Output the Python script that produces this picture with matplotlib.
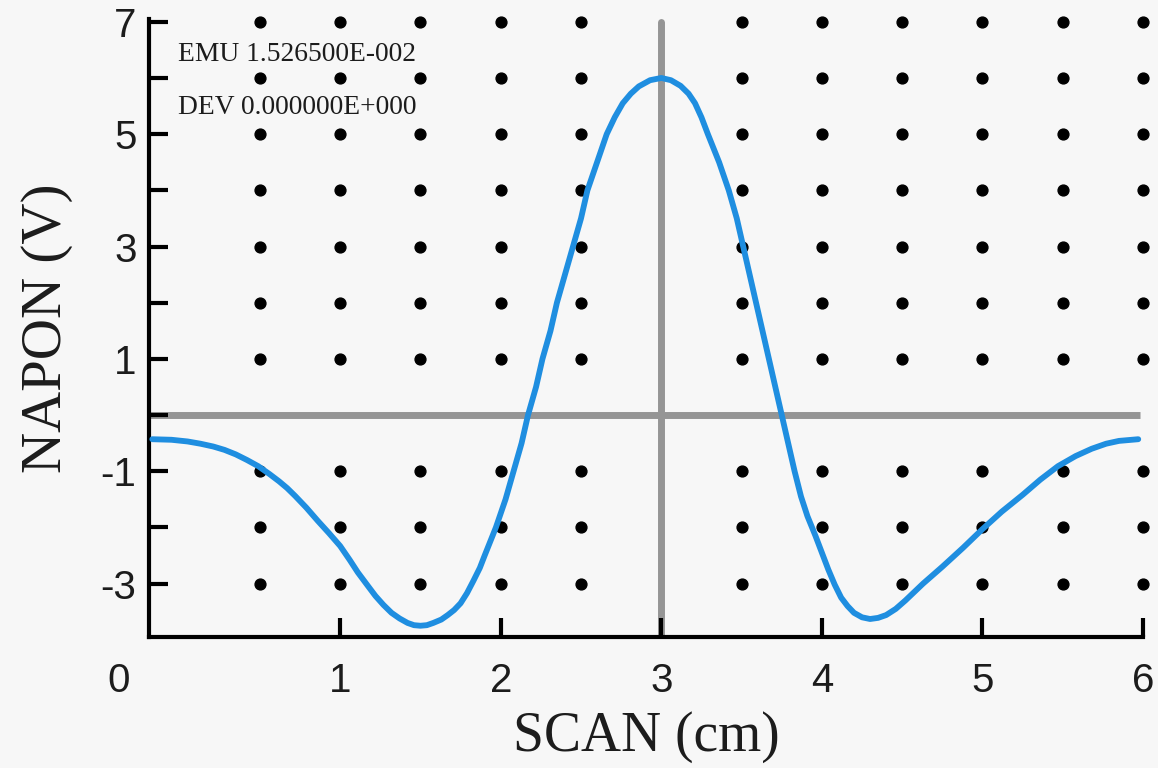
import matplotlib
matplotlib.use("Agg")
import matplotlib.pyplot as plt

# ---------------------------------------------------------
# scan profile (cm, V)
# ---------------------------------------------------------
scan_cm = [-0.17, -0.05, 0.05, 0.13, 0.21, 0.28, 0.35, 0.42, 0.49, 0.56,
           0.62, 0.67, 0.72, 0.79, 0.86, 0.93, 1.00, 1.06, 1.11, 1.17,
           1.22, 1.27, 1.32, 1.37, 1.42, 1.46, 1.50, 1.54, 1.58, 1.63,
           1.67, 1.71, 1.75, 1.79, 1.83, 1.87, 1.90, 1.97, 2.03, 2.08,
           2.13, 2.17, 2.22, 2.26, 2.31, 2.35, 2.40, 2.45, 2.50, 2.54,
           2.60, 2.66, 2.71, 2.76, 2.81, 2.86, 2.93, 3.00, 3.06, 3.12,
           3.17, 3.21, 3.25, 3.29, 3.36, 3.42, 3.47, 3.51, 3.55, 3.59,
           3.63, 3.67, 3.71, 3.75, 3.79, 3.83, 3.87, 3.91, 3.96, 4.00,
           4.04, 4.08, 4.12, 4.16, 4.20, 4.25, 4.30, 4.35, 4.40, 4.46,
           4.52, 4.63, 4.75, 4.88, 5.00, 5.12, 5.25, 5.36, 5.47, 5.58,
           5.68, 5.77, 5.85, 5.97]
napon_v = [-0.43, -0.44, -0.47, -0.51, -0.56, -0.62, -0.70, -0.80, -0.91, -1.05,
           -1.18, -1.30, -1.44, -1.65, -1.88, -2.10, -2.33, -2.58, -2.80, -3.03,
           -3.22, -3.38, -3.52, -3.62, -3.70, -3.74, -3.75, -3.74, -3.70, -3.64,
           -3.56, -3.47, -3.35, -3.17, -2.95, -2.72, -2.50, -2.00, -1.50, -1.00,
           -0.50, 0.00, 0.50, 1.00, 1.50, 2.00, 2.50, 3.00, 3.50, 4.00,
           4.50, 5.00, 5.30, 5.55, 5.72, 5.85, 5.96, 6.00, 5.96, 5.86,
           5.72, 5.55, 5.30, 5.00, 4.50, 4.00, 3.50, 3.00, 2.50, 2.00,
           1.50, 1.00, 0.50, 0.00, -0.50, -1.00, -1.45, -1.80, -2.15, -2.45,
           -2.75, -3.02, -3.25, -3.40, -3.52, -3.60, -3.63, -3.61, -3.56, -3.45,
           -3.30, -3.00, -2.70, -2.36, -2.03, -1.72, -1.42, -1.15, -0.91, -0.73,
           -0.60, -0.51, -0.46, -0.43]

# dot grid: half-cm columns, 1 V rows (the axes lines cover x=3 and y=0)
dot_cols = [0.5, 1.0, 1.5, 2.0, 2.5, 3.5, 4.0, 4.5, 5.0, 5.5, 6.0]
dot_rows = [7, 6, 5, 4, 3, 2, 1, -1, -2, -3]

x_ticks = [1, 2, 3, 4, 5, 6]
y_ticks = [-3, -2, -1, 0, 1, 2, 3, 4, 5, 6, 7]
y_ticklabels = ["-3", "", "-1", "", "1", "", "3", "", "5", "", "7"]

emu_text = "EMU 1.526500E-002"
dev_text = "DEV 0.000000E+000"

bg = "#f7f7f7"
ink = "#1c1c1c"
sans = "Liberation Sans"
serif = "Liberation Serif"

fig = plt.figure(figsize=(11.58, 7.68), dpi=100, facecolor=bg)
ax = fig.add_axes([0.1287, 0.1706, 0.8584, 0.8047])
ax.set_facecolor(bg)

x0, x1 = -0.19, 5.98
ax.set_xlim(x0, x1)
ax.set_ylim(-3.95, 7.05)

# dots
for r in dot_rows:
    ax.plot(dot_cols, [r] * len(dot_cols), linestyle="none", marker="o",
            markersize=7.8, color="black", zorder=2, clip_on=False)

# zero lines
ax.plot([x0, x1], [0, 0], color="#959595", linewidth=5, zorder=1,
        solid_capstyle="butt")
ax.plot([3, 3], [-3.95, 7.0], color="#959595", linewidth=5, zorder=1,
        solid_capstyle="round")

# signal
ax.plot(scan_cm, napon_v, color="#1f8ee0", linewidth=4.2, zorder=3,
        solid_capstyle="round", solid_joinstyle="round")

# axes styling
for side in ["top", "right"]:
    ax.spines[side].set_visible(False)
for side in ["left", "bottom"]:
    ax.spines[side].set_linewidth(3)
    ax.spines[side].set_color("black")

ax.set_xticks(x_ticks)
ax.set_xticklabels([str(t) for t in x_ticks])
ax.set_yticks(y_ticks)
ax.set_yticklabels(y_ticklabels)
ax.tick_params(axis="both", direction="in", length=14, width=3, color="black",
               labelsize=29, labelcolor=ink)
ax.tick_params(axis="x", pad=18)
ax.tick_params(axis="y", pad=9)
for lbl in ax.get_xticklabels() + ax.get_yticklabels():
    lbl.set_fontfamily(sans)

# corner zero label
ax.text(-0.38, -4.73, "0", fontsize=29, family=sans, color=ink,
        ha="center", va="center", clip_on=False)

ax.set_xlabel("SCAN (cm)", fontsize=40, family=serif, labelpad=8, color=ink)
ax.set_ylabel("NAPON (V)", fontsize=41, family=serif, labelpad=20, color=ink)

ax.text(0.029, 6.42, emu_text, fontsize=19.8, family=serif, ha="left", va="center",
        transform=ax.get_yaxis_transform(), zorder=4, color=ink)
ax.text(0.029, 5.48, dev_text, fontsize=19.8, family=serif, ha="left", va="center",
        transform=ax.get_yaxis_transform(), zorder=4, color=ink)

fig.savefig("out.png", dpi=100, facecolor=bg)
